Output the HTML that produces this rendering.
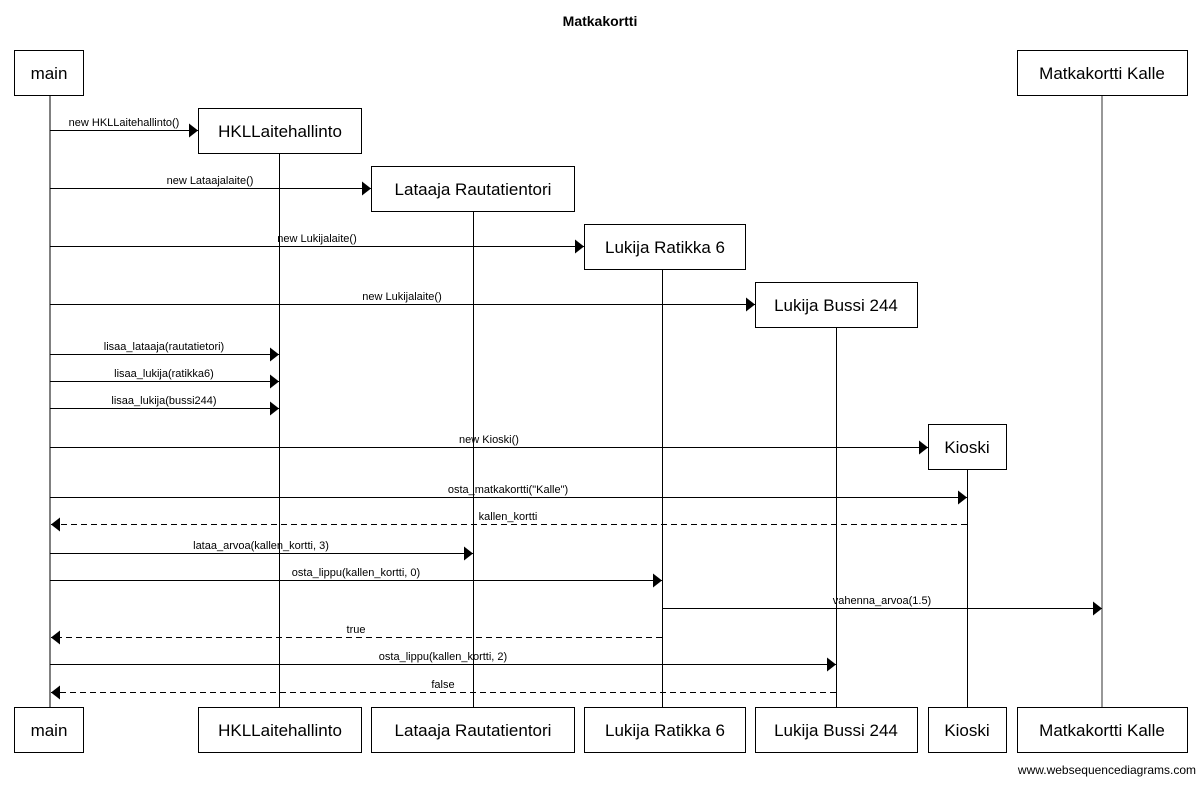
<!DOCTYPE html>
<html><head><meta charset="utf-8"><style>
body{margin:0;background:#fff;}
svg text{font-family:"Liberation Sans",Arial,sans-serif;fill:#000;}
</style></head><body>
<svg width="1200" height="783" viewBox="0 0 1200 783" xmlns="http://www.w3.org/2000/svg">
<defs><marker id="a" markerWidth="9" markerHeight="14" refX="9" refY="7" orient="auto" markerUnits="userSpaceOnUse"><path d="M0,0 L9,7 L0,14 z" fill="#000"/></marker></defs>
<text x="600" y="26" font-size="14" font-weight="bold" text-anchor="middle">Matkakortti</text>
<g stroke="#000" stroke-width="1">
<line x1="50" y1="96" x2="50" y2="707"/>
<line x1="279.5" y1="153" x2="279.5" y2="707"/>
<line x1="473.5" y1="211" x2="473.5" y2="707"/>
<line x1="662.5" y1="269" x2="662.5" y2="707"/>
<line x1="836.5" y1="327" x2="836.5" y2="707"/>
<line x1="967.5" y1="469" x2="967.5" y2="707"/>
<line x1="1102" y1="96" x2="1102" y2="707" stroke="#777" stroke-width="1.5"/>
</g>
<g fill="#fff" stroke="#000" stroke-width="1">
<rect x="14.5" y="50.5" width="69" height="45"/>
<rect x="1017.5" y="50.5" width="170" height="45"/>
<rect x="198.5" y="108.5" width="163" height="45"/>
<rect x="371.5" y="166.5" width="203" height="45"/>
<rect x="584.5" y="224.5" width="161" height="45"/>
<rect x="755.5" y="282.5" width="162" height="45"/>
<rect x="928.5" y="424.5" width="78" height="45"/>
<rect x="14.5" y="707.5" width="69" height="45"/>
<rect x="198.5" y="707.5" width="163" height="45"/>
<rect x="371.5" y="707.5" width="203" height="45"/>
<rect x="584.5" y="707.5" width="161" height="45"/>
<rect x="755.5" y="707.5" width="162" height="45"/>
<rect x="928.5" y="707.5" width="78" height="45"/>
<rect x="1017.5" y="707.5" width="170" height="45"/>
</g>
<g font-size="17" text-anchor="middle">
<text x="49" y="79">main</text>
<text x="1102" y="79">Matkakortti Kalle</text>
<text x="280" y="137">HKLLaitehallinto</text>
<text x="473" y="195">Lataaja Rautatientori</text>
<text x="665" y="253">Lukija Ratikka 6</text>
<text x="836" y="311">Lukija Bussi 244</text>
<text x="967" y="453">Kioski</text>
<text x="49" y="736">main</text>
<text x="280" y="736">HKLLaitehallinto</text>
<text x="473" y="736">Lataaja Rautatientori</text>
<text x="665" y="736">Lukija Ratikka 6</text>
<text x="836" y="736">Lukija Bussi 244</text>
<text x="967" y="736">Kioski</text>
<text x="1102" y="736">Matkakortti Kalle</text>
</g>
<g stroke="#000" stroke-width="1">
<line x1="50" y1="130.5" x2="198" y2="130.5" marker-end="url(#a)"/>
<line x1="50" y1="188.5" x2="371" y2="188.5" marker-end="url(#a)"/>
<line x1="50" y1="246.5" x2="584" y2="246.5" marker-end="url(#a)"/>
<line x1="50" y1="304.5" x2="755" y2="304.5" marker-end="url(#a)"/>
<line x1="50" y1="354.5" x2="279" y2="354.5" marker-end="url(#a)"/>
<line x1="50" y1="381.5" x2="279" y2="381.5" marker-end="url(#a)"/>
<line x1="50" y1="408.5" x2="279" y2="408.5" marker-end="url(#a)"/>
<line x1="50" y1="447.5" x2="928" y2="447.5" marker-end="url(#a)"/>
<line x1="50" y1="497.5" x2="967" y2="497.5" marker-end="url(#a)"/>
<line x1="967" y1="524.5" x2="51" y2="524.5" stroke-dasharray="6,4" marker-end="url(#a)"/>
<line x1="50" y1="553.5" x2="473" y2="553.5" marker-end="url(#a)"/>
<line x1="50" y1="580.5" x2="662" y2="580.5" marker-end="url(#a)"/>
<line x1="662" y1="608.5" x2="1102" y2="608.5" marker-end="url(#a)"/>
<line x1="662" y1="637.5" x2="51" y2="637.5" stroke-dasharray="6,4" marker-end="url(#a)"/>
<line x1="50" y1="664.5" x2="836" y2="664.5" marker-end="url(#a)"/>
<line x1="836" y1="692.5" x2="51" y2="692.5" stroke-dasharray="6,4" marker-end="url(#a)"/>
</g>
<g font-size="11" text-anchor="middle">
<text x="124" y="126">new HKLLaitehallinto()</text>
<text x="210" y="184">new Lataajalaite()</text>
<text x="317" y="242">new Lukijalaite()</text>
<text x="402" y="300">new Lukijalaite()</text>
<text x="164" y="350">lisaa_lataaja(rautatietori)</text>
<text x="164" y="377">lisaa_lukija(ratikka6)</text>
<text x="164" y="404">lisaa_lukija(bussi244)</text>
<text x="489" y="443">new Kioski()</text>
<text x="508" y="493">osta_matkakortti("Kalle")</text>
<text x="508" y="520">kallen_kortti</text>
<text x="261" y="549">lataa_arvoa(kallen_kortti, 3)</text>
<text x="356" y="576">osta_lippu(kallen_kortti, 0)</text>
<text x="882" y="604">vahenna_arvoa(1.5)</text>
<text x="356" y="633">true</text>
<text x="443" y="660">osta_lippu(kallen_kortti, 2)</text>
<text x="443" y="688">false</text>
</g>
<text x="1196" y="774" font-size="12" text-anchor="end">www.websequencediagrams.com</text>
</svg>
</body></html>
